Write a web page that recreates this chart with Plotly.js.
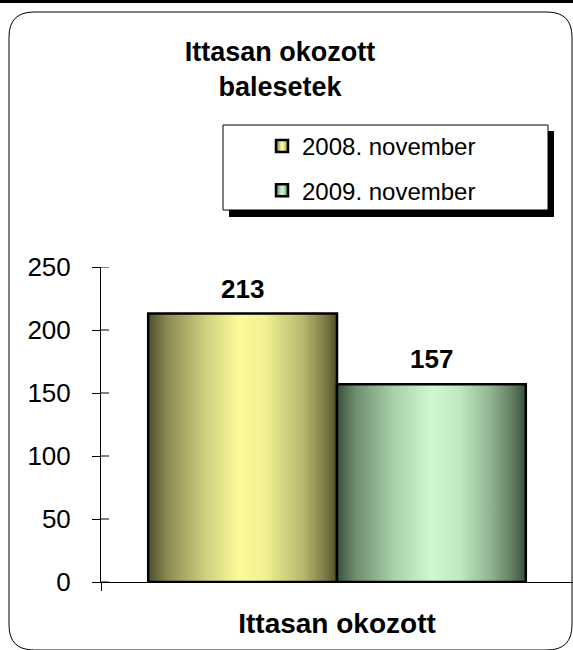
<!DOCTYPE html>
<html>
<head>
<meta charset="utf-8">
<script src="https://cdn.plot.ly/plotly-3.0.1.min.js"></script>
<style>
  html, body { margin: 0; padding: 0; background: #fff; }
  #chart { width: 573px; height: 650px; }
</style>
</head>
<body>
<div id="chart"></div>
<script>
// data
var categories = ["Ittasan okozott"];
var seriesNames = ["2008. november", "2009. november"];
var values2008 = [213];
var values2009 = [157];
var yTickVals = [0, 50, 100, 150, 200, 250];

var FONT = "Liberation Sans, Arial, sans-serif";

// plot area in page pixels: x 101..573, y 267..582
var L = 101, T = 267, W = 472, H = 315;
function px(x) { return (x - L) / W; }
function py(y) { return (T + H - y) / H; }

var trace1 = {
  type: "bar",
  name: seriesNames[0],
  x: categories,
  y: values2008,
  legendgroup: "a",
  marker: { color: "#e6e68c", line: { color: "#000", width: 2.5 } },
  hoverinfo: "none"
};
var trace2 = {
  type: "bar",
  name: seriesNames[1],
  x: categories,
  y: values2009,
  legendgroup: "b",
  marker: { color: "#b4dcb4", line: { color: "#000", width: 2.5 } },
  hoverinfo: "none"
};
var data = [trace1, trace2];

// value labels above the bars (bar centres at -0.2 and +0.2 of the category)
var labels = [
  { x: -0.2, y: values2008[0], text: "<b>" + values2008[0] + "</b>" },
  { x: 0.2, y: values2009[0], text: "<b>" + values2009[0] + "</b>" }
].map(function (a) {
  return {
    xref: "x", yref: "y", x: a.x, y: a.y, text: a.text,
    showarrow: false, yanchor: "bottom", yshift: 8,
    font: { family: FONT, size: 26, color: "#000" }
  };
});

var r = 25; // corner radius in px
function roundRect(x0, y0, x1, y1) {
  return "M" + px(x0 + r) + "," + py(y0) +
    " L" + px(x1 - r) + "," + py(y0) +
    " Q" + px(x1) + "," + py(y0) + " " + px(x1) + "," + py(y0 + r) +
    " L" + px(x1) + "," + py(y1 - r) +
    " Q" + px(x1) + "," + py(y1) + " " + px(x1 - r) + "," + py(y1) +
    " L" + px(x0 + r) + "," + py(y1) +
    " Q" + px(x0) + "," + py(y1) + " " + px(x0) + "," + py(y1 - r) +
    " L" + px(x0) + "," + py(y0 + r) +
    " Q" + px(x0) + "," + py(y0) + " " + px(x0 + r) + "," + py(y0) + " Z";
}

var shapes = [
  // black rule at the very top
  { type: "rect", xref: "paper", yref: "paper", x0: px(0), x1: px(573), y0: py(0), y1: py(3),
    fillcolor: "#000", line: { width: 0 }, layer: "below" },
  // rounded frame
  { type: "path", xref: "paper", yref: "paper", path: roundRect(9, 12, 572, 650),
    line: { color: "#000", width: 1 }, fillcolor: "rgba(0,0,0,0)", layer: "below" },
  // legend shadow
  { type: "rect", xref: "paper", yref: "paper", x0: px(229), x1: px(554), y0: py(131), y1: py(217),
    fillcolor: "#000", line: { width: 0 }, layer: "above" },
  // legend box
  { type: "rect", xref: "paper", yref: "paper", x0: px(223), x1: px(548), y0: py(125), y1: py(210),
    fillcolor: "#fff", line: { color: "#000", width: 1 }, layer: "above" }
];

// inner half of the crossing y ticks
yTickVals.forEach(function (v) {
  shapes.push({ type: "line", xref: "paper", yref: "y", x0: 0, x1: 8 / W, y0: v, y1: v,
    line: { color: "#000", width: 1 }, layer: "above" });
});

var layout = {
  width: 573,
  height: 650,
  margin: { l: L, r: 573 - L - W, t: T, b: 650 - T - H, pad: 0 },
  paper_bgcolor: "#fff",
  plot_bgcolor: "rgba(0,0,0,0)",
  font: { family: FONT, color: "#000" },
  title: {
    text: "Ittasan okozott<br>balesetek",
    font: { family: FONT, size: 27, weight: "bold", color: "#000" },
    xref: "container", x: 280 / 573, xanchor: "center",
    yref: "container", y: 1 - 61 / 650, yanchor: "top"
  },
  barmode: "group",
  bargap: 0.2,
  bargroupgap: 0,
  showlegend: true,
  legend: {
    x: px(262), xanchor: "left",
    y: py(124), yanchor: "top",
    bgcolor: "rgba(0,0,0,0)", borderwidth: 0,
    traceorder: "grouped", tracegroupgap: 10,
    font: { family: FONT, size: 24, color: "#000" }
  },
  xaxis: {
    type: "category",
    range: [-0.5, 0.5],
    showline: true, linecolor: "#000", linewidth: 1,
    tickson: "boundaries", ticks: "outside", ticklen: 8, tickcolor: "#000",
    tickfont: { family: FONT, size: 28, weight: "bold", color: "#000" },
    ticklabelstandoff: 16,
    showgrid: false, zeroline: false, fixedrange: true
  },
  yaxis: {
    range: [0, 250],
    tickvals: yTickVals,
    showline: true, linecolor: "#000", linewidth: 1,
    ticks: "outside", ticklen: 8, tickcolor: "#000",
    tickfont: { family: FONT, size: 26, color: "#000" },
    ticklabelstandoff: 16,
    showgrid: false, zeroline: false, fixedrange: true
  },
  annotations: labels,
  shapes: shapes
};

// horizontal shading of the bars, like the original cylinder look
var gradients = {
  g2008: [[0, "#4e4e2a"], [0.1, "#8a8a52"], [0.3, "#cfcf80"], [0.48, "#fbfb9a"],
          [0.62, "#f0f094"], [0.82, "#b8b86e"], [0.94, "#7a7a46"], [1, "#4e4e2a"]],
  g2009: [[0, "#3a503b"], [0.1, "#6f8f70"], [0.3, "#a9d0aa"], [0.5, "#cff7d0"],
          [0.65, "#c0e8c1"], [0.82, "#8fb290"], [0.94, "#5b765c"], [1, "#3a503b"]]
};

Plotly.newPlot("chart", data, layout, { staticPlot: true }).then(function (gd) {
  var ns = "http://www.w3.org/2000/svg";
  var svg = gd.querySelector("svg.main-svg");
  var defs = svg.querySelector("defs") || svg.insertBefore(document.createElementNS(ns, "defs"), svg.firstChild);
  Object.keys(gradients).forEach(function (id) {
    var g = document.createElementNS(ns, "linearGradient");
    g.setAttribute("id", id);
    g.setAttribute("x1", "0"); g.setAttribute("x2", "1");
    g.setAttribute("y1", "0"); g.setAttribute("y2", "0");
    gradients[id].forEach(function (s) {
      var st = document.createElementNS(ns, "stop");
      st.setAttribute("offset", s[0]);
      st.setAttribute("stop-color", s[1]);
      g.appendChild(st);
    });
    defs.appendChild(g);
  });
  var ids = ["g2008", "g2009"];
  gd.querySelectorAll(".barlayer .trace").forEach(function (t, i) {
    t.querySelectorAll(".point path").forEach(function (p) { p.style.fill = "url(#" + ids[i] + ")"; });
  });
  gd.querySelectorAll(".legend .traces").forEach(function (t, i) {
    t.querySelectorAll(".legendpoints path").forEach(function (p) { p.style.fill = "url(#" + ids[i] + ")"; });
  });
});
</script>
</body>
</html>
